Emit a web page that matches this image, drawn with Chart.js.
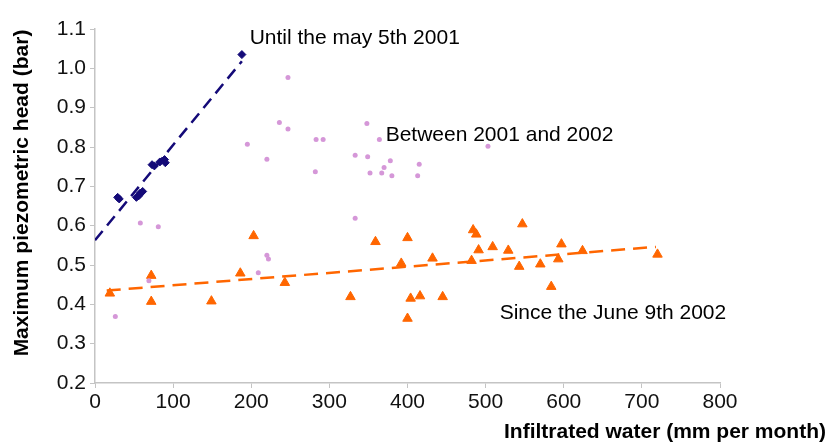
<!DOCTYPE html>
<html>
<head>
<meta charset="utf-8">
<script src="https://cdn.jsdelivr.net/npm/chart.js@4.4.1/dist/chart.umd.min.js"></script>
<style>
  body { margin: 0; background: #fff; }
  #wrap { width: 828px; height: 445px; }
</style>
</head>
<body>
<div id="wrap"><canvas id="myChart"></canvas></div>
<script>
// Until the may 5th 2001 (diamonds)
var untilX = [29, 31, 53, 56, 58, 61, 73, 76, 83, 89, 90, 188];
var untilY = [0.672, 0.668, 0.672, 0.676, 0.683, 0.687, 0.755, 0.752, 0.762, 0.768, 0.760, 1.035];

// Between 2001 and 2002 (dots)
var betweenX = [26, 58, 69, 81, 195, 209, 220, 222, 220, 236, 247, 247, 282, 283, 292, 333, 333, 348, 349, 352, 364, 367, 370, 378, 380, 413, 415, 503];
var betweenY = [0.369, 0.607, 0.460, 0.597, 0.807, 0.480, 0.525, 0.515, 0.769, 0.862, 0.977, 0.846, 0.737, 0.819, 0.819, 0.779, 0.619, 0.860, 0.775, 0.734, 0.819, 0.734, 0.748, 0.765, 0.727, 0.727, 0.756, 0.802];

// Since the June 9th 2002 (triangles)
var sinceX = [19, 72, 72, 149, 186, 203, 243, 327, 359, 392, 400, 404, 416, 400, 432, 445, 482, 484, 488, 491, 509, 529, 543, 547, 570, 584, 593, 597, 624, 720];
var sinceY = [0.428, 0.473, 0.407, 0.408, 0.479, 0.574, 0.455, 0.419, 0.559, 0.504, 0.569, 0.415, 0.421, 0.364, 0.517, 0.419, 0.511, 0.589, 0.578, 0.538, 0.546, 0.537, 0.496, 0.604, 0.502, 0.445, 0.515, 0.553, 0.536, 0.527];

// trend lines (end points)
var untilTrendX = [0, 188];
var untilTrendY = [0.563, 1.018];
var sinceTrendX = [15, 718];
var sinceTrendY = [0.435, 0.546];

var xTicks = [0, 100, 200, 300, 400, 500, 600, 700, 800];
var yTicks = [0.2, 0.3, 0.4, 0.5, 0.6, 0.7, 0.8, 0.9, 1.0, 1.1];

var notes = [
  { text: 'Until the may 5th 2001', x: 198, y: 1.077 },
  { text: 'Between 2001 and 2002', x: 372, y: 0.83 },
  { text: 'Since the June 9th 2002', x: 518, y: 0.378 }
];

function pairs(xs, ys) {
  return xs.map(function (x, i) { return { x: x, y: ys[i] }; });
}

var navy = '#140a78';
var pink = '#d597d8';
var orange = '#ff6600';
var axisGray = '#c4c4c4';
var font = '"Liberation Sans", Arial, sans-serif';

var textPlugin = {
  id: 'texts',
  afterDraw: function (chart) {
    var c = chart.ctx;
    var xs = chart.scales.x, ys = chart.scales.y;
    c.save();
    c.fillStyle = '#000';
    c.font = '21px ' + font;
    c.textAlign = 'left';
    c.textBaseline = 'middle';
    notes.forEach(function (n) {
      c.fillText(n.text, xs.getPixelForValue(n.x), ys.getPixelForValue(n.y));
    });
    c.font = 'bold 21px ' + font;
    c.textAlign = 'right';
    c.fillText('Infiltrated water (mm per month)', 826, 432);
    c.translate(22, 193);
    c.rotate(-Math.PI / 2);
    c.textAlign = 'center';
    c.fillText('Maximum piezometric head (bar)', 0, 0);
    c.restore();
  }
};

var ctx = document.getElementById('myChart').getContext('2d');
var myChart = new Chart(ctx, {
  type: 'scatter',
  data: {
    datasets: [
      {
        label: 'Until trend',
        data: pairs(untilTrendX, untilTrendY),
        showLine: true,
        borderColor: navy,
        borderWidth: 2.5,
        borderDash: [12, 7],
        pointRadius: 0
      },
      {
        label: 'Since trend',
        data: pairs(sinceTrendX, sinceTrendY),
        showLine: true,
        borderColor: orange,
        borderWidth: 2.5,
        borderDash: [14, 8],
        pointRadius: 0
      },
      {
        label: 'Until the may 5th 2001',
        data: pairs(untilX, untilY),
        pointStyle: 'rectRot',
        pointRadius: 4,
        backgroundColor: navy,
        borderColor: navy,
        borderWidth: 1
      },
      {
        label: 'Between 2001 and 2002',
        data: pairs(betweenX, betweenY),
        pointStyle: 'circle',
        pointRadius: 2.5,
        backgroundColor: pink,
        borderColor: pink,
        borderWidth: 0
      },
      {
        label: 'Since the June 9th 2002',
        data: pairs(sinceX, sinceY),
        pointStyle: 'triangle',
        pointRadius: 5.5,
        backgroundColor: orange,
        borderColor: orange,
        borderWidth: 1
      }
    ]
  },
  options: {
    responsive: true,
    maintainAspectRatio: false,
    animation: false,
    layout: { padding: { top: 29, right: 108, left: 0, bottom: 0 } },
    plugins: {
      legend: { display: false },
      tooltip: { enabled: false }
    },
    scales: {
      x: {
        type: 'linear',
        min: 0,
        max: 800,
        afterFit: function (s) { s.height = 62; },
        afterBuildTicks: function (s) { s.ticks = xTicks.map(function (v) { return { value: v }; }); },
        ticks: {
          color: '#111',
          font: { family: font, size: 21 },
          padding: 2,
          maxRotation: 0
        },
        grid: { drawOnChartArea: false, drawTicks: true, tickLength: 5, color: axisGray },
        border: { display: true, color: axisGray, width: 1.5 }
      },
      y: {
        min: 0.2,
        max: 1.1,
        afterFit: function (s) { s.width = 95; },
        afterBuildTicks: function (s) { s.ticks = yTicks.map(function (v) { return { value: v }; }); },
        ticks: {
          color: '#111',
          font: { family: font, size: 21 },
          padding: 4,
          callback: function (v) { return Number(v).toFixed(1); }
        },
        grid: { drawOnChartArea: false, drawTicks: true, tickLength: 5, color: axisGray },
        border: { display: true, color: axisGray, width: 1.5 }
      }
    }
  },
  plugins: [textPlugin]
});
</script>
</body>
</html>
